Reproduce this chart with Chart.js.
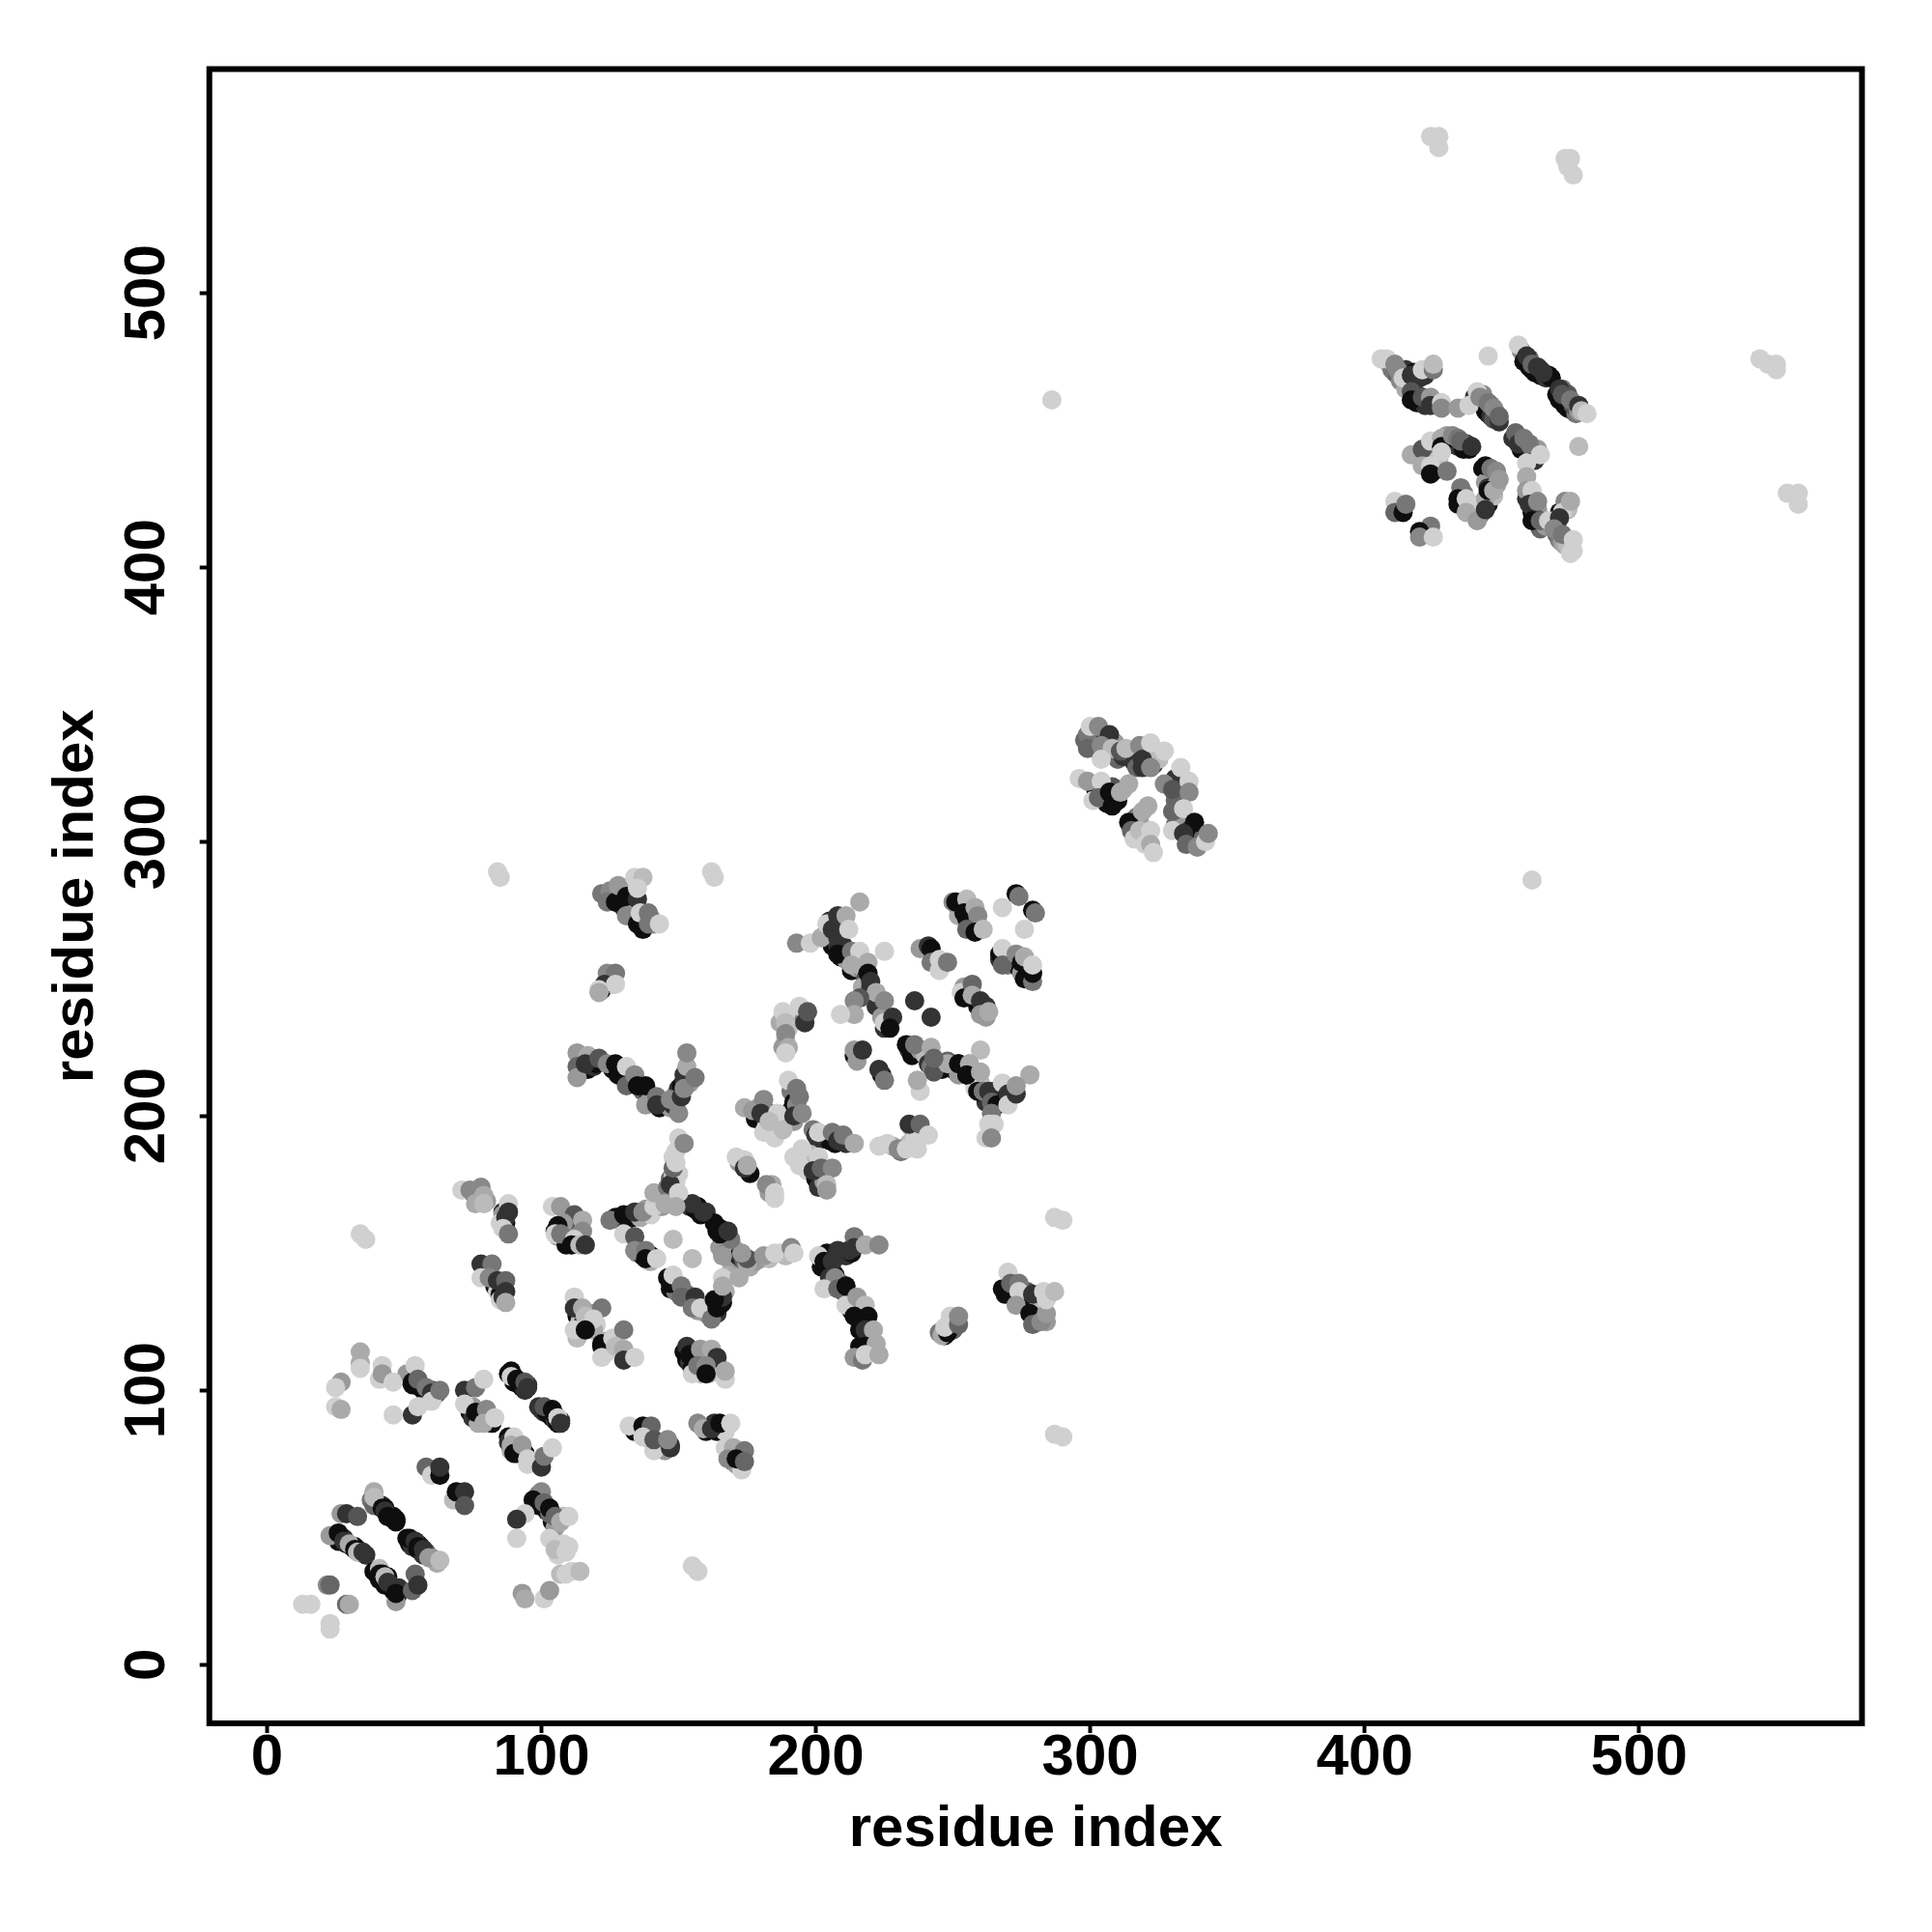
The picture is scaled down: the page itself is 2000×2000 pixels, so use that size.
<!DOCTYPE html>
<html>
<head>
<meta charset="utf-8">
<style>
  html, body { margin: 0; padding: 0; background: #fff; }
</style>
<script src="https://cdn.jsdelivr.net/npm/chart.js@4"></script>
</head>
<body>
<canvas id="contacts" width="2000" height="2000"></canvas>
<script>
// contacts: [residue, residue, strength 0-9]
// the underXxx lists sit beneath the main ones, they thicken the strands
const underLow = [[25,47,9],[27,46,9],[28,46,8],[29,44,9],[31,43,8],[32,43,9],[33,42,9],[34,41,8],[36,40,8],[26,45,9],[38,60,5],[40,59,6],[41,58,9],[42,58,8],[43,57,9],[44,55,9],[45,54,9],[46,54,9],[47,52,9],[47,53,9],[39,58,6],[39,34,9],[40,33,9],[42,31,9],[43,31,8],[44,32,9],[45,29,8],[46,28,9],[46,27,9],[48,26,9],[48,28,8],[41,31,9],[43,29,9],[51,46,9],[52,44,9],[53,45,9],[53,43,8],[55,44,9],[55,42,9],[56,43,9],[57,40,8],[58,41,6],[60,39,3],[62,37,2]];
const underHundred = [[88,106,9],[90,105,9],[90,103,9],[92,103,9],[92,102,9],[93,101,9],[95,102,8],[94,100,8],[99,94,8],[100,93,8],[101,92,8],[102,92,9],[103,91,9],[104,90,9],[105,89,8],[106,88,9],[105,91,9],[107,89,8],[51,106,3],[52,104,8],[53,102,9],[54,103,7],[55,102,9],[56,102,6],[57,100,9],[58,99,6],[59,98,3],[60,100,8],[61,98,2],[62,99,6],[56,101,9],[74,92,9],[75,90,8],[77,90,9],[78,91,6],[79,89,9],[81,89,8],[82,88,9],[77,88,2],[81,91,3],[75,94,3],[88,83,9],[88,81,8],[89,78,2],[90,79,9],[91,77,9],[92,78,8],[91,81,3],[94,77,9],[99,62,5],[99,58,9],[100,60,9],[102,56,9],[104,55,8],[104,52,9],[106,52,8],[108,54,1],[105,50,3],[103,55,6],[106,40,0],[108,44,0],[111,34,0]];
const underClusters = [[75,172,5],[76,171,8],[77,170,3],[80,169,3],[86,165,8],[86,162,9],[87,161,9],[86,164,3],[85,161,0],[79,144,8],[80,143,3],[83,138,9],[84,136,0],[85,135,9],[85,133,0],[86,134,8],[105,158,9],[106,156,2],[108,158,9],[109,156,4],[110,158,2],[110,155,8],[109,153,9],[111,157,8],[112,161,7],[113,156,3],[113,127,9],[114,125,1],[115,124,8],[113,119,1],[118,128,4],[120,124,0],[119,122,2],[124,118,2],[124,114,0],[122,117,9]];
const underDiamond = [[127,163,9],[129,162,9],[131,162,8],[133,163,9],[135,164,8],[136,163,2],[138,166,3],[140,164,0],[143,170,8],[144,167,3],[146,170,4],[148,170,6],[147,177,6],[148,178,1],[149,176,0],[150,179,0],[148,185,0],[151,169,1],[152,168,2],[154,167,8],[156,166,9],[157,167,9],[158,164,9],[160,165,8],[163,161,9],[164,158,9],[166,156,9],[168,155,8],[167,158,8],[165,152,3],[167,150,4],[168,149,3],[169,147,3],[170,152,2],[172,149,9],[173,148,8],[174,147,6],[176,145,2],[178,147,3],[180,148,3],[183,148,1],[187,150,0],[189,149,1],[166,135,9],[165,131,9],[164,128,8],[166,132,9],[162,128,9],[160,128,3],[168,142,2],[167,136,2],[146,141,9],[147,137,9],[149,136,5],[153,135,5],[155,132,8],[157,129,3],[135,150,4],[137,149,9],[139,147,0],[140,149,9],[140,147,2]];
const underLower = [[152,114,9],[153,111,9],[154,110,8],[155,108,9],[156,112,2],[158,108,9],[158,106,1],[159,113,4],[161,112,8],[163,109,2],[165,108,6],[161,106,1],[154,115,8],[135,86,4],[134,85,9],[138,85,8],[138,83,8],[139,84,2],[143,81,6],[144,80,8],[145,78,3],[147,80,8],[160,85,9],[163,88,8],[164,85,9],[166,87,6],[167,85,0],[168,76,3],[169,76,9],[170,74,8],[172,77,8],[171,73,3],[173,73,2]];
const underUpper = [[122,281,5],[126,280,8],[128,279,7],[129,277,9],[130,276,8],[132,278,8],[133,276,9],[133,274,2],[134,282,2],[136,272,9],[137,268,9],[140,272,3],[141,270,4],[122,246,9],[124,249,2],[125,249,9],[126,248,1],[115,221,4],[118,220,8],[114,216,8],[115,217,9],[117,217,9],[119,218,8],[120,219,9],[126,217,9],[129,216,8],[130,214,9],[133,213,9],[137,209,6],[139,208,8],[140,206,2],[143,203,9],[145,205,8],[146,204,5],[149,205,9],[149,208,3],[150,210,8],[151,211,9],[152,215,8],[154,212,3],[147,203,3]];
const underCentre = [[172,183,3],[176,179,9],[183,174,6],[184,175,2],[183,172,3],[178,199,9],[179,203,3],[182,199,8],[183,201,6],[184,196,0],[186,197,1],[182,196,0],[191,209,5],[192,205,9],[191,202,9],[193,204,4],[192,198,3],[199,195,5],[201,191,8],[203,193,3],[205,191,9],[207,190,9],[209,191,4],[211,190,8],[196,183,0],[198,186,1],[197,180,0],[200,182,1],[201,178,0],[200,177,9],[202,176,9],[203,177,3],[201,174,8],[203,176,3],[228,189,2],[231,187,5],[235,195,0],[236,194,4],[237,194,6],[234,190,1],[187,234,2],[188,238,0],[192,236,0],[190,232,1],[189,228,1],[188,225,3],[194,236,4]];
const underCross = [[204,267,8],[205,271,8],[205,265,9],[206,262,9],[208,262,8],[209,258,9],[210,262,8],[211,257,3],[213,253,9],[215,254,3],[216,257,9],[217,254,9],[218,252,1],[218,250,7],[217,247,2],[220,247,8],[221,243,0],[222,240,8],[224,236,3],[226,234,8],[225,232,8],[234,224,8],[235,222,9],[238,224,3],[240,222,1],[241,219,8],[242,218,5],[244,218,1],[246,217,9],[247,219,8],[250,217,9],[252,215,3],[254,217,2],[257,214,9],[258,212,9],[260,212,1],[258,210,0],[265,209,9],[266,207,9],[267,206,1],[268,209,9],[264,203,3],[262,205,8],[214,222,9],[215,220,3],[224,215,9]];
const underRight = [[252,276,9],[252,273,2],[255,272,9],[256,270,9],[257,268,9],[258,271,6],[269,256,9],[270,255,5],[274,254,9],[275,252,3],[276,250,9],[277,254,9],[278,253,9],[254,247,3],[259,240,9],[261,239,9],[262,236,3],[202,145,9],[204,150,9],[205,148,9],[209,149,3],[211,149,8],[213,150,9],[206,144,5],[207,142,9],[209,139,6],[210,136,8],[212,134,9],[212,132,9],[213,129,9],[215,131,8],[216,128,9],[217,125,9],[216,122,9],[218,119,9],[219,118,3],[220,119,2],[216,116,9],[216,113,9],[220,115,1],[245,121,5],[247,120,9],[249,124,9],[250,122,6],[251,126,3],[268,137,9],[272,135,3],[276,133,9],[277,131,8],[277,136,7],[278,132,9],[280,127,5],[281,130,1],[284,125,3]];
const under300 = [[298,337,6],[301,337,8],[302,334,8],[304,337,9],[306,335,5],[309,336,3],[310,330,6],[312,331,8],[315,332,4],[316,329,8],[317,327,6],[319,327,8],[321,331,1],[323,328,8],[325,330,1],[302,319,9],[304,318,5],[305,315,9],[306,314,9],[309,316,9],[310,315,9],[312,319,2],[308,320,7],[331,323,8],[332,318,7],[331,315,6],[332,308,7],[331,306,6],[333,309,3],[336,304,8],[337,301,8],[339,301,9],[341,301,6],[315,306,9],[317,309,5],[318,307,3],[316,302,6],[319,302,1]];
const under450 = [[409,474,2],[410,472,5],[411,471,5],[412,470,6],[413,468,4],[415,467,4],[415,472,8],[418,471,9],[418,468,8],[422,470,8],[419,460,9],[419,463,8],[422,459,8],[426,460,8],[423,461,3],[415,465,2],[440,462,8],[441,460,9],[443,459,9],[444,457,9],[445,456,9],[446,455,8],[448,456,5],[447,454,7],[449,453,8],[443,463,4],[446,459,5],[457,479,4],[458,475,9],[460,476,6],[460,473,9],[461,472,9],[462,471,9],[464,472,8],[464,470,9],[466,469,8],[467,470,9],[468,469,9],[470,463,9],[471,461,9],[473,459,9],[474,458,9],[476,457,9],[477,456,5],[476,459,7],[472,465,5],[474,463,7],[478,457,3],[454,447,8],[456,447,5],[457,445,6],[457,443,9],[459,442,9],[460,441,9],[461,443,6],[462,441,3],[463,443,3],[462,439,8],[459,425,8],[461,420,9],[462,419,3],[463,421,3],[462,418,8],[464,414,6],[466,415,3],[469,416,8],[470,414,8],[471,420,9],[470,412,6],[471,410,5],[472,409,3],[473,408,2],[474,408,1],[475,405,0],[473,424,4],[474,421,1],[421,441,8],[423,441,0],[426,445,8],[430,448,3],[430,446,9],[432,445,9],[434,444,8],[436,443,9],[437,445,8],[438,443,9],[426,437,9],[425,435,8],[428,436,8],[427,439,1],[434,423,9],[436,427,5],[441,421,0],[442,423,1],[442,419,5],[443,423,0],[445,423,9],[443,436,9],[445,434,9],[446,431,9],[447,432,6],[444,431,3],[445,429,8],[447,426,1],[448,430,3]];

const cornerLow = [[13,22,0],[16,22,0],[23,15,0],[23,13,0],[22,29,4],[23,29,6],[29,22,6],[30,22,2]];
const bandLeft = [[23,47,3],[26,48,9],[28,45,8],[30,44,2],[32,42,9],[33,41,1],[35,41,8],[27,55,3],[29,55,8],[33,54,7],[39,63,2],[39,61,1],[42,57,9],[43,56,8],[44,54,9],[46,53,9]];
const bandLower = [[41,35,1],[41,33,9],[42,33,9],[43,32,1],[44,30,8],[47,23,3],[47,26,9],[54,33,6],[53,27,6],[55,29,8],[52,46,9],[54,45,8],[55,43,9],[57,42,8],[59,39,3],[63,38,1]];
const shortPairs = [[58,72,6],[60,69,0],[63,69,9],[63,72,8],[68,60,1],[69,63,9],[72,63,8],[72,58,7]];
const nearHundred = [[100,63,4],[97,60,9],[101,59,6],[103,57,9],[105,54,6],[107,52,2],[110,54,0],[94,55,0],[91,53,8],[91,46,0],[103,46,0],[105,42,1],[110,43,0],[109,41,0],[107,33,1],[109,33,0],[114,34,1],[93,26,3],[94,24,2],[101,24,0],[103,27,3]];
const upperLeft = [[34,114,2],[34,110,2],[34,108,0],[42,109,0],[41,104,0],[42,106,3],[46,103,0],[27,103,3],[25,101,0],[25,94,0],[27,93,2],[46,91,0],[53,91,8],[55,94,0],[52,106,3],[53,103,9],[54,109,0],[55,104,6],[58,101,5],[60,99,8],[60,96,0],[63,100,5]];
const midStrand = [[72,100,8],[76,101,5],[79,104,0],[72,95,0],[76,92,9],[80,93,4],[79,88,2],[83,90,0],[89,107,9],[89,105,0],[91,104,9],[94,103,7],[95,101,8],[101,94,7],[104,93,9],[106,90,0],[107,88,8]];
const crossLow = [[90,83,0],[89,80,2],[90,77,9],[93,80,3],[95,75,0],[95,73,0],[100,72,8],[101,76,5],[104,79,0]];
const clusterA = [[71,173,0],[74,173,4],[78,174,4],[79,171,2],[76,168,2],[79,168,1],[88,168,0],[88,165,8],[87,163,8],[86,159,0],[88,157,5]];
const clusterB = [[78,146,8],[82,146,5],[78,141,0],[81,141,4],[84,140,8],[87,140,6],[87,136,8],[87,132,2]];
const clusterC = [[104,167,0],[107,167,3],[112,164,7],[115,162,2],[108,161,3],[106,160,9],[105,157,0],[107,157,5],[115,158,4],[112,155,0],[111,153,9],[114,153,1],[116,153,8]];
const clusterD = [[112,134,0],[112,130,8],[115,130,2],[122,130,5],[116,127,1],[119,126,0],[112,122,0],[116,122,9],[122,116,9],[122,112,0],[126,119,0],[130,122,5],[127,116,1],[130,115,2],[130,111,8],[134,112,0]];
const diamond = [[125,162,5],[130,164,9],[134,165,8],[137,165,4],[141,167,0],[141,172,2],[130,157,0],[134,156,7],[134,151,4],[138,151,5],[138,148,9],[142,148,0],[148,155,1],[155,148,1],[147,139,9],[148,142,0],[151,138,5],[151,134,6],[156,134,8],[155,130,5],[158,130,0],[162,126,5],[164,130,9],[166,134,8],[163,133,9],[166,141,0],[166,138,2],[172,141,2],[175,146,2],[175,148,7],[173,150,3],[166,149,3],[169,155,5],[165,157,9],[165,159,9],[168,158,8],[158,165,9],[155,168,8],[159,165,8],[146,174,5],[147,175,8],[145,168,2],[150,172,0],[149,167,2],[148,181,6],[149,183,0],[149,187,0],[150,192,0],[152,190,4],[181,149,3],[185,150,0],[191,152,4],[192,150,0]];
const clusterF = [[153,116,8],[154,113,9],[158,115,3],[162,115,2],[164,112,8],[155,106,0],[157,109,5],[160,109,4],[160,106,9],[167,104,0],[167,107,2]];
const clusterG = [[132,87,0],[137,87,9],[140,87,6],[137,83,0],[141,78,0],[141,82,7],[147,79,8],[146,82,4]];
const clusterH = [[157,88,4],[159,86,2],[162,86,8],[165,88,9],[169,88,0],[167,79,0],[170,79,2],[174,78,5],[173,71,0],[168,75,4],[171,75,9],[174,74,6]];
const farLow = [[155,36,0],[157,34,0],[34,157,0],[36,155,0],[84,289,0],[85,287,0],[162,289,0],[163,287,0],[287,163,0],[290,162,0],[287,84,0],[290,83,0],[286,461,0],[461,286,0]];
const clusterI = [[125,282,4],[124,278,5],[127,278,9],[128,284,3],[131,280,9],[135,279,8],[134,287,0],[137,287,1],[135,283,0],[131,273,4],[135,270,9],[136,274,0],[139,274,5],[139,270,5],[143,270,0]];
const clusterJ = [[124,252,4],[127,252,5],[123,248,8],[127,248,0],[121,246,0],[121,245,2]];
const clusterK = [[113,223,3],[117,222,2],[113,218,6],[113,214,3],[116,219,8],[121,221,7],[124,219,4],[127,219,9],[128,215,9],[131,218,0],[131,211,6],[134,215,4],[138,204,3],[135,211,9],[138,211,9],[142,207,5],[142,204,8],[148,204,8],[147,206,4],[150,201,4],[151,207,8],[152,213,8],[152,210,4],[153,218,2],[153,223,4],[156,214,5]];
const clusterL = [[171,185,0],[174,184,0],[174,181,8],[175,182,2],[182,175,4],[185,172,0],[185,170,0]];
const clusterM = [[174,203,2],[177,202,3],[181,206,4],[180,201,8],[186,201,0],[181,194,0],[185,192,0],[188,195,1],[183,198,1],[190,213,0],[193,210,5],[194,207,5],[192,200,8],[195,201,4]];
const clusterN = [[200,193,8],[201,194,0],[206,194,5],[208,191,8],[210,193,5],[214,190,2]];
const clusterO = [[192,185,0],[195,188,0],[194,182,0],[201,185,0],[199,180,8],[202,181,6],[206,181,4],[204,175,1],[204,173,3]];
const clusterP = [[223,189,0],[226,190,0],[230,188,4],[233,188,0],[237,188,0],[236,192,0],[234,197,8],[238,197,6],[241,193,0]];
const clusterQ = [[189,237,0],[189,234,1],[189,230,4],[190,225,2],[189,223,0],[194,240,0],[196,234,8],[197,238,7]];
const crossUpper = [[193,263,4],[198,263,0],[202,265,2],[204,270,0],[206,268,8],[208,265,8],[208,273,8],[211,273,2],[212,268,0],[216,278,2],[208,259,9],[213,260,5],[216,260,0],[225,260,0],[213,255,2],[219,256,2],[219,252,9],[220,249,8],[222,245,2],[225,242,4],[216,243,7],[214,242,4],[214,237,2],[209,237,0],[225,234,0],[228,236,8],[227,232,9]];
const loneDark = [[236,242,8],[242,236,8]];
const clusterS = [[238,261,3],[241,262,8],[242,261,9],[242,256,5],[245,257,0],[245,253,0],[248,256,5]];
const crossMid = [[214,224,3],[217,224,8],[223,217,8],[225,213,5],[233,226,9],[236,226,5],[242,225,2],[245,219,2],[243,216,7],[238,209,0],[237,213,2],[248,220,6],[252,219,9],[256,219,2]];
const topRight = [[250,278,4],[251,278,9],[255,279,1],[254,274,9],[258,276,2],[259,273,4],[255,268,6],[258,267,9],[261,268,1],[268,276,0],[273,281,9],[274,280,5],[279,275,9],[280,274,5],[276,268,0]];
const rightBlock = [[267,257,8],[267,259,9],[268,261,0],[268,255,6],[273,259,4],[275,256,9],[276,258,2],[277,251,9],[279,249,5],[279,252,9],[279,255,0]];
const smallRight = [[253,245,0],[254,243,9],[257,248,6],[257,244,2],[260,242,8],[262,240,8],[260,237,3],[263,238,2]];
const crossTail = [[260,224,1],[278,215,2],[248,219,2],[243,221,6],[252,219,9],[256,219,2],[255,215,9],[260,216,2],[259,209,9],[261,209,5],[263,209,8],[264,205,6],[266,204,9],[264,201,5],[263,197,0],[265,197,0],[262,192,0],[264,192,4],[268,212,0],[270,208,8],[270,204,0],[273,208,8],[273,211,3]];
const lowerRight = [[201,149,0],[203,147,9],[206,147,8],[208,151,8],[212,151,8],[214,156,5],[214,152,8],[218,153,2],[223,153,4],[205,141,8],[207,141,4],[203,137,0],[208,137,6],[211,138,9],[211,131,0],[215,134,3],[218,131,1],[214,127,9],[219,127,9],[218,122,8],[221,122,2],[218,116,9],[222,117,2],[214,112,3],[217,111,5],[218,113,0],[223,113,2]];
const clusterU = [[246,120,2],[248,121,9],[247,123,0],[249,127,0],[252,124,6],[252,127,4]];
const clusterV = [[270,143,0],[269,135,9],[271,139,6],[274,139,5],[274,136,0],[273,131,3],[279,135,8],[278,128,9],[279,124,6],[282,125,4],[284,128,3],[283,136,0],[284,133,0],[287,136,1]];
const block300Top = [[299,339,5],[299,334,6],[300,342,0],[303,342,4],[307,339,8],[304,335,4],[308,334,1],[304,330,0],[311,333,7],[313,334,1],[318,335,4],[319,330,8],[322,336,0],[322,327,4],[327,333,0]];
const block300Left = [[296,323,0],[299,322,3],[304,322,0],[301,315,0],[303,316,6],[307,318,9],[308,313,9],[311,318,2],[314,321,2]];
const block300Right = [[327,321,4],[330,319,7],[333,327,0],[336,322,0],[336,318,4],[330,311,6],[330,304,0],[334,312,0],[338,307,9],[334,303,8],[335,299,6],[339,298,4],[342,300,0],[343,303,4]];
const block300Low = [[314,307,9],[315,304,6],[316,301,0],[318,304,1],[319,311,2],[321,313,2],[322,304,0],[320,299,0],[322,299,2],[323,296,0]];
const upperArm = [[406,476,0],[408,476,0],[411,474,4],[412,472,4],[414,469,0],[417,470,8],[420,469,8],[421,472,0],[425,472,5],[425,474,1],[417,464,7],[417,461,9],[421,462,7],[424,462,3],[424,459,8],[428,460,0],[428,458,4],[434,458,3],[438,459,0],[445,477,0]];
const upperBand = [[441,464,0],[442,462,4],[445,460,5],[447,458,4],[449,455,6],[456,481,0],[459,477,8],[461,474,6],[463,473,8],[465,471,8],[471,465,8],[472,463,7],[475,461,5],[478,459,8],[479,457,1],[481,456,0]];
const midBand = [[455,449,6],[456,445,8],[458,447,5],[460,445,5],[464,441,0],[478,444,1]];
const tailBand = [[459,438,0],[459,433,2],[459,428,3],[461,428,0],[460,423,8],[463,424,4],[461,417,9],[464,417,6],[467,417,0],[472,420,0],[471,418,8],[475,424,2],[469,414,4],[472,412,5],[476,410,0],[476,406,0]];
const blockInner = [[417,441,2],[421,443,7],[424,446,0],[428,447,2],[428,444,9],[428,442,0],[432,448,4],[434,447,5],[435,446,6],[439,444,8],[421,437,2],[424,437,0],[424,434,9],[430,435,5]];
const blockLower = [[444,425,2],[445,428,9],[447,428,2],[435,429,5],[434,425,9],[437,425,0],[437,420,2],[441,417,3],[444,421,8],[444,437,9],[446,436,5],[448,435,4],[449,432,3]];
const blockCorner = [[411,424,0],[411,420,6],[414,420,9],[415,423,5],[424,415,5],[420,413,9],[420,411,4],[425,411,0]];
const farHigh = [[424,557,0],[427,557,0],[427,553,0],[473,549,0],[475,549,0],[474,546,0],[476,543,0],[544,476,0],[547,474,0],[550,474,0],[550,472,0],[554,427,0],[558,427,0],[558,423,0]];

const allContacts = [underLow, underHundred, underClusters, underDiamond, underLower, underUpper, underCentre, underCross, underRight, under300, under450,
  cornerLow, bandLeft, bandLower, shortPairs, nearHundred, upperLeft, midStrand, crossLow,
  clusterA, clusterB, clusterC, clusterD, diamond, clusterF, clusterG, clusterH, farLow, clusterI, clusterJ,
  clusterK, clusterL, clusterM, clusterN, clusterO, clusterP, clusterQ, crossUpper, loneDark, clusterS, crossMid,
  topRight, rightBlock, smallRight, crossTail, lowerRight, clusterU, clusterV, block300Top, block300Left,
  block300Right, block300Low, upperArm, upperBand, midBand, tailBand, blockInner, blockLower, blockCorner, farHigh].flat();

const tickValues = [0, 100, 200, 300, 400, 500];
const axisName = 'residue index';
const shades = ['#d0d0d0', '#bbbbbb', '#aaaaaa', '#999999', '#888888', '#777777', '#666666', '#555555', '#333333', '#0e0e0e'];

const tickFont = { family: '"Liberation Sans"', size: 60, weight: 'bold' };

// the frame on all four sides of the plot
const framePlugin = {
  id: 'frame',
  afterDraw(chart) {
    const { ctx, chartArea: a } = chart;
    ctx.save();
    ctx.strokeStyle = '#000';
    ctx.lineWidth = 6;
    ctx.strokeRect(a.left, a.top, a.right - a.left, a.bottom - a.top);
    ctx.restore();
  }
};

const onlyTicks = (scale) => {
  scale.ticks = tickValues.map(v => ({ value: v, label: String(v) }));
};

new Chart(document.getElementById('contacts'), {
  type: 'scatter',
  data: {
    datasets: [{
      data: allContacts.map(c => ({ x: c[0], y: c[1] })),
      pointRadius: 10,
      pointBorderWidth: 0,
      pointBackgroundColor: allContacts.map(c => shades[c[2]])
    }]
  },
  plugins: [framePlugin],
  options: {
    responsive: false,
    animation: false,
    layout: { padding: { left: 0, top: 71.5, right: 72.5, bottom: 0 } },
    plugins: { legend: { display: false }, tooltip: { enabled: false } },
    scales: {
      x: {
        type: 'linear',
        min: -21,
        max: 581.2,
        afterBuildTicks: onlyTicks,
        afterFit: (s) => { s.height = 216; },
        border: { display: false },
        grid: { drawOnChartArea: false, tickLength: 10, tickWidth: 4, tickColor: '#000' },
        ticks: { color: '#000', font: tickFont, padding: -10, maxRotation: 0 },
        title: { display: true, text: axisName, color: '#000', font: tickFont, padding: { top: 0, bottom: 70 } }
      },
      y: {
        type: 'linear',
        min: -21.4,
        max: 581.6,
        afterBuildTicks: onlyTicks,
        afterFit: (s) => { s.width = 216.7; },
        border: { display: false },
        grid: { drawOnChartArea: false, tickLength: 10, tickWidth: 4, tickColor: '#000' },
        ticks: { color: '#000', font: tickFont, padding: 3, minRotation: 90, maxRotation: 90, crossAlign: 'center' },
        title: { display: true, text: axisName, color: '#000', font: tickFont, padding: { top: 43, bottom: 0 } }
      }
    }
  }
});
</script>
</body>
</html>
